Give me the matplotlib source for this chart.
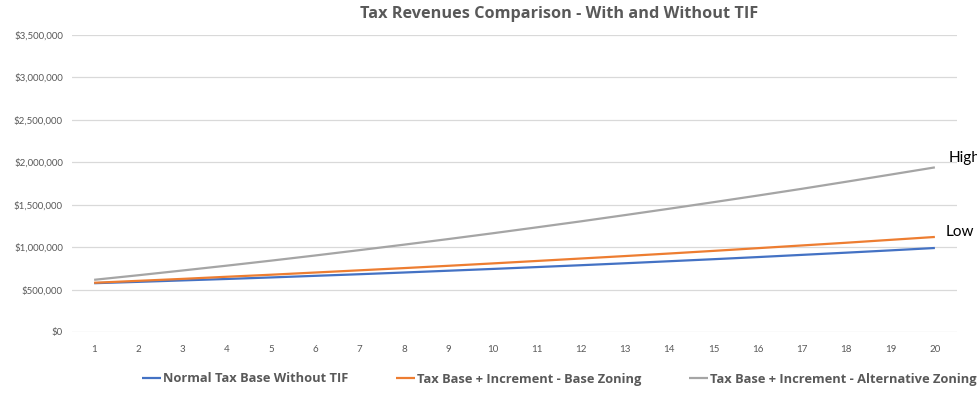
import matplotlib
matplotlib.use("Agg")
import matplotlib.pyplot as plt
from matplotlib.ticker import FuncFormatter

plt.rcParams['font.family'] = ['Lato', 'DejaVu Sans']

years = list(range(1, 21))

# annual tax revenues in dollars
normal_base = [575000, 591000, 608000, 625000, 643000, 662000, 681000, 701000, 722000, 743000,
               765000, 787000, 810000, 834000, 858000, 883000, 909000, 935000, 962000, 990000]
base_zoning = [580000, 603000, 626000, 651000, 675000, 701000, 727000, 753000, 780000, 808000,
               837000, 866000, 895000, 925000, 956000, 988000, 1020000, 1052000, 1086000, 1120000]
alt_zoning = [615000, 669000, 725000, 782000, 841000, 902000, 965000, 1029000, 1095000, 1163000,
              1233000, 1304000, 1378000, 1453000, 1530000, 1608000, 1688000, 1771000, 1855000, 1940000]

series_names = ["Normal Tax Base Without TIF",
                "Tax Base + Increment - Base Zoning",
                "Tax Base + Increment - Alternative Zoning"]
series_colors = ["#4472C4", "#ED7D31", "#A5A5A5"]
y_ticks = [0, 500000, 1000000, 1500000, 2000000, 2500000, 3000000, 3500000]

fig = plt.figure(figsize=(9.77, 4.04), dpi=100)
ax = fig.add_axes([72 / 977, 1 - 332 / 404, (957 - 72) / 977, (332 - 35) / 404])

for vals, name, col in zip([normal_base, base_zoning, alt_zoning], series_names, series_colors):
    ax.plot(years, vals, color=col, lw=1.6, label=name, solid_capstyle='butt')

ax.set_xlim(0.5, 20.5)
ax.set_ylim(0, 3500000)
ax.set_xticks(years)
ax.set_yticks(y_ticks)
ax.yaxis.set_major_formatter(FuncFormatter(lambda v, p: f"${v:,.0f}"))
ax.grid(axis='y', color='#D9D9D9', lw=0.9)
ax.set_axisbelow(True)
for s in ax.spines.values():
    s.set_visible(False)
ax.tick_params(axis='both', length=0, colors='#595959', labelsize=7)
ax.tick_params(axis='y', pad=6.5)
ax.tick_params(axis='x', pad=9)

fig.text(559 / 977, 1 - 14 / 404, "Tax Revenues Comparison - With and Without TIF",
         ha='center', va='center', fontsize=11.7, fontweight='bold', color='#595959',
         family=['Open Sans', 'DejaVu Sans'])

ax.text(20.3, 2050000, "High", fontsize=11, color='black', va='center', ha='left', clip_on=False)
ax.text(20.25, 1180000, "Low", fontsize=11, color='black', va='center', ha='left', clip_on=False)

fig.legend(loc='center left', bbox_to_anchor=(142 / 977, 1 - 379 / 404), ncol=3, frameon=False,
           handlelength=1.5, handletextpad=0.12, columnspacing=3.7,
           borderpad=0, borderaxespad=0,
           prop={'family': ['Open Sans', 'DejaVu Sans'], 'weight': 'bold', 'size': 9.3},
           labelcolor='#595959')

fig.savefig("out.png", dpi=100)
